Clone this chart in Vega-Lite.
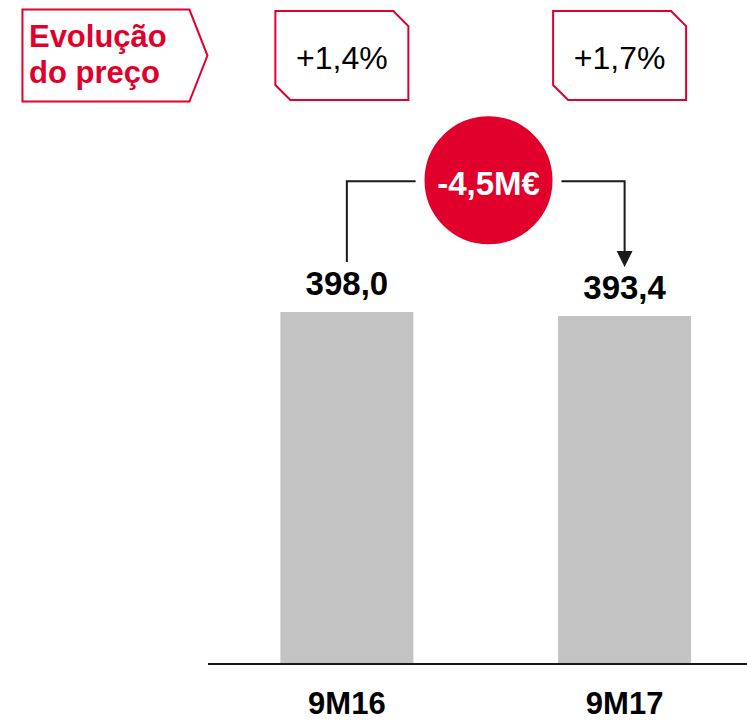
{
  "$schema": "https://vega.github.io/schema/vega-lite/v6.json",
  "width": 747,
  "height": 723,
  "autosize": {"type": "none"},
  "padding": 0,
  "background": "white",
  "config": {"view": {"stroke": null}, "font": "Liberation Sans"},
  "datasets": {
    "barras": [
      {"periodo": "9M16", "pos": 1, "valor": 398.0, "rotulo": "398,0"},
      {"periodo": "9M17", "pos": 2, "valor": 393.4, "rotulo": "393,4"}
    ],
    "precos": [
      {"pos": 1, "nivel": 688, "variacao": "+1,4%"},
      {"pos": 2, "nivel": 688, "variacao": "+1,7%"}
    ],
    "titulo": [
      {"pos": 0.165, "nivel": 688, "texto": "Evolução\ndo preço"}
    ],
    "eixo": [
      {"inicio": 0.5, "fim": 2.45, "valor": 0}
    ],
    "ligacao": [
      {"ordem": 1, "pos": 1, "nivel": 454.5},
      {"ordem": 2, "pos": 1, "nivel": 546},
      {"ordem": 3, "pos": 2, "nivel": 546},
      {"ordem": 4, "pos": 2, "nivel": 458}
    ],
    "seta": [
      {"pos": 2, "nivel": 458}
    ],
    "delta": [
      {"pos": 1.51, "nivel": 547, "texto": "-4,5M€"}
    ]
  },
  "layer": [
    {
      "data": {"name": "barras"},
      "mark": {"type": "bar", "width": 133, "color": "#c3c3c3"},
      "encoding": {
        "x": {"field": "pos", "type": "quantitative", "scale": {"domain": [-0.2309, 2.4227], "nice": false, "zero": false}, "axis": null},
        "y": {"field": "valor", "type": "quantitative", "scale": {"domain": [-66.7, 750.8], "nice": false, "zero": false}, "axis": null},
        "y2": {"datum": 0}
      }
    },
    {
      "data": {"name": "eixo"},
      "mark": {"type": "rule", "color": "#1a1a1a", "strokeWidth": 2},
      "encoding": {
        "x": {"field": "inicio", "type": "quantitative"},
        "x2": {"field": "fim"},
        "y": {"field": "valor", "type": "quantitative"}
      }
    },
    {
      "data": {"name": "barras"},
      "mark": {"type": "text", "fontSize": 33, "fontWeight": "bold", "color": "black", "align": "center", "baseline": "alphabetic", "dy": -17},
      "encoding": {
        "x": {"field": "pos", "type": "quantitative"},
        "y": {"field": "valor", "type": "quantitative"},
        "text": {"field": "rotulo", "type": "nominal"}
      }
    },
    {
      "data": {"name": "barras"},
      "mark": {"type": "text", "fontSize": 31, "fontWeight": "bold", "color": "black", "align": "center", "baseline": "alphabetic", "dy": 50},
      "encoding": {
        "x": {"field": "pos", "type": "quantitative"},
        "y": {"datum": 0, "type": "quantitative"},
        "text": {"field": "periodo", "type": "nominal"}
      }
    },
    {
      "data": {"name": "ligacao"},
      "mark": {"type": "line", "color": "#1a1a1a", "strokeWidth": 2, "interpolate": "linear"},
      "encoding": {
        "x": {"field": "pos", "type": "quantitative"},
        "y": {"field": "nivel", "type": "quantitative"},
        "order": {"field": "ordem", "type": "quantitative"}
      }
    },
    {
      "data": {"name": "seta"},
      "mark": {"type": "point", "shape": "M-1,-1L1,-1L0,1Z", "size": 256, "filled": true, "color": "#1a1a1a", "opacity": 1},
      "encoding": {
        "x": {"field": "pos", "type": "quantitative"},
        "y": {"field": "nivel", "type": "quantitative"}
      }
    },
    {
      "data": {"name": "delta"},
      "mark": {"type": "point", "shape": "circle", "size": 18769, "filled": true, "fill": "#e0002b", "stroke": "white", "strokeWidth": 9, "opacity": 1},
      "encoding": {
        "x": {"field": "pos", "type": "quantitative"},
        "y": {"field": "nivel", "type": "quantitative"}
      }
    },
    {
      "data": {"name": "delta"},
      "mark": {"type": "text", "fontSize": 33, "fontWeight": "bold", "color": "white", "align": "center", "baseline": "alphabetic", "dy": 15},
      "encoding": {
        "x": {"field": "pos", "type": "quantitative"},
        "y": {"field": "nivel", "type": "quantitative"},
        "text": {"field": "texto", "type": "nominal"}
      }
    },
    {
      "data": {"name": "precos"},
      "mark": {"type": "point", "shape": "M-1,-0.669L0.774,-0.669L1,-0.443L1,0.669L-0.774,0.669L-1,0.443Z", "size": 17689, "filled": false, "stroke": "#e0002b", "strokeWidth": 2, "opacity": 1, "xOffset": -5},
      "encoding": {
        "x": {"field": "pos", "type": "quantitative"},
        "y": {"field": "nivel", "type": "quantitative"}
      }
    },
    {
      "data": {"name": "precos"},
      "mark": {"type": "text", "fontSize": 32, "color": "black", "align": "center", "baseline": "alphabetic", "dy": 13, "xOffset": -5},
      "encoding": {
        "x": {"field": "pos", "type": "quantitative"},
        "y": {"field": "nivel", "type": "quantitative"},
        "text": {"field": "variacao", "type": "nominal"}
      }
    },
    {
      "data": {"name": "titulo"},
      "mark": {"type": "point", "shape": "M-1,-0.497L0.805,-0.497L1,0L0.805,0.497L-1,0.497Z", "size": 34225, "filled": false, "stroke": "#e0002b", "strokeWidth": 2, "opacity": 1},
      "encoding": {
        "x": {"field": "pos", "type": "quantitative"},
        "y": {"field": "nivel", "type": "quantitative"}
      }
    },
    {
      "data": {"name": "titulo"},
      "mark": {"type": "text", "fontSize": 31, "fontWeight": "bold", "color": "#e0002b", "align": "left", "baseline": "alphabetic", "dx": -86, "dy": -9, "lineBreak": "\n", "lineHeight": 36},
      "encoding": {
        "x": {"field": "pos", "type": "quantitative"},
        "y": {"field": "nivel", "type": "quantitative"},
        "text": {"field": "texto", "type": "nominal"}
      }
    }
  ]
}
